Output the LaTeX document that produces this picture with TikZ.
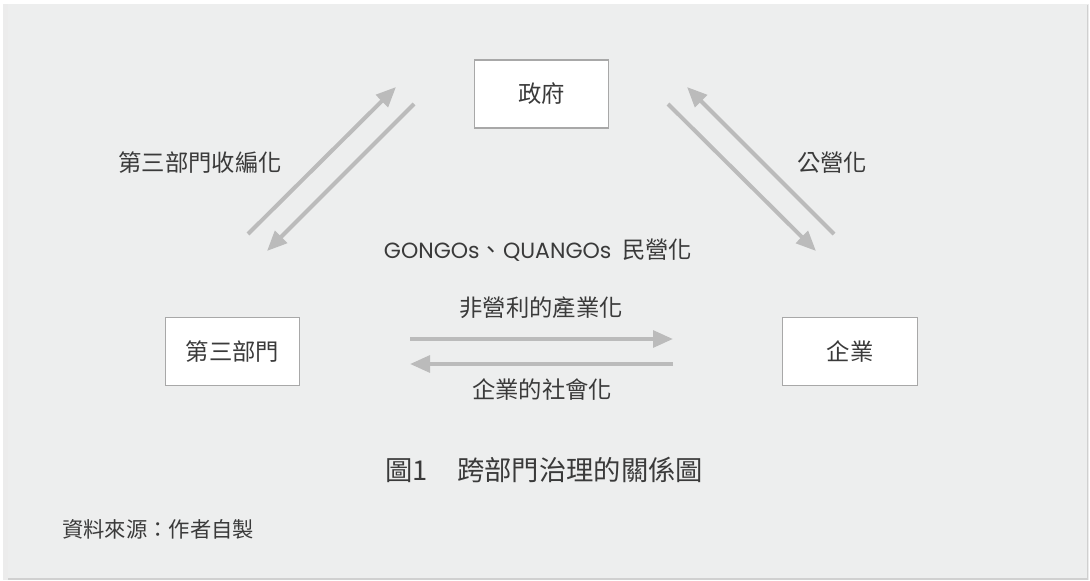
\documentclass[tikz,border=0pt]{standalone}
\usepackage{fontspec}
\setmainfont{Noto Sans CJK TC}
\newfontfamily\latinfont{Poppins}
\usetikzlibrary{arrows.meta}
\definecolor{panel}{HTML}{EDEEEE}
\definecolor{edge}{HTML}{D0D0D0}
\definecolor{boxline}{HTML}{A8A8A8}
\definecolor{arrowgray}{HTML}{BBBBBB}
\definecolor{ink}{HTML}{3A3A3A}
\tikzset{
  sector/.style={draw=boxline, line width=0.8pt, fill=white, minimum width=101pt, minimum height=51pt, inner sep=0pt, text=ink, font=\fontsize{17.5}{17.5}\selectfont},
  label/.style={text=ink, inner sep=0pt, font=\fontsize{17.5}{17.5}\selectfont},
  flow/.style={draw=arrowgray, line width=3pt, -{Triangle[length=15pt,width=12.5pt]}}
}
\begin{document}
\begin{tikzpicture}[x=0.75pt,y=-0.75pt]
\useasboundingbox (0,0) rectangle (1090,581);
\fill[white] (0,0) rectangle (1090,581);
\fill[edge!40] (3,4) rectangle (1089,580);
\fill[edge] (8,5) rectangle (1088,580);
\fill[panel] (8,4) rectangle (1087,578);

% boxes
\node[sector] (gov) at (541.5,94) {政府};
\node[sector] (third) at (232.5,351.5) {第三部門};
\node[sector] (biz) at (850,351.5) {企業};

% arrow end coordinates
\coordinate (a1s) at (248,234);
\coordinate (a1e) at (396,87);
\coordinate (a2s) at (414,104);
\coordinate (a2e) at (267,251);
\coordinate (b1s) at (834,234);
\coordinate (b1e) at (687,87);
\coordinate (b2s) at (668,104);
\coordinate (b2e) at (816,251);
\coordinate (c1s) at (410,339);
\coordinate (c1e) at (673,339);
\coordinate (c2s) at (673,364);
\coordinate (c2e) at (410,364);

\draw[flow] (a1s) -- (a1e);
\draw[flow] (a2s) -- (a2e);
\draw[flow] (b1s) -- (b1e);
\draw[flow] (b2s) -- (b2e);
\draw[flow] (c1s) -- (c1e);
\draw[flow] (c2s) -- (c2e);

% labels
\node[label] (l1) at (200,163) {第三部門收編化};
\node[label] (l2) at (832,163) {公營化};
\node[label] (l3) at (538,250) {{\latinfont\fontsize{16.5}{17}\selectfont GONGOs}、{\latinfont\fontsize{16.5}{17}\selectfont QUANGOs}\hspace{8pt}民營化};
\node[label] (l4) at (541,308) {非營利的產業化};
\node[label] (l5) at (542,390) {企業的社會化};
\node[label, font=\fontsize{20.5}{21}\selectfont, anchor=west] (cap) at (385,470) {圖1\hspace{22pt}跨部門治理的關係圖};
\node[label, font=\fontsize{16}{16}\selectfont, anchor=west] (src) at (62,529) {資料來源：作者自製};
\end{tikzpicture}
\end{document}
